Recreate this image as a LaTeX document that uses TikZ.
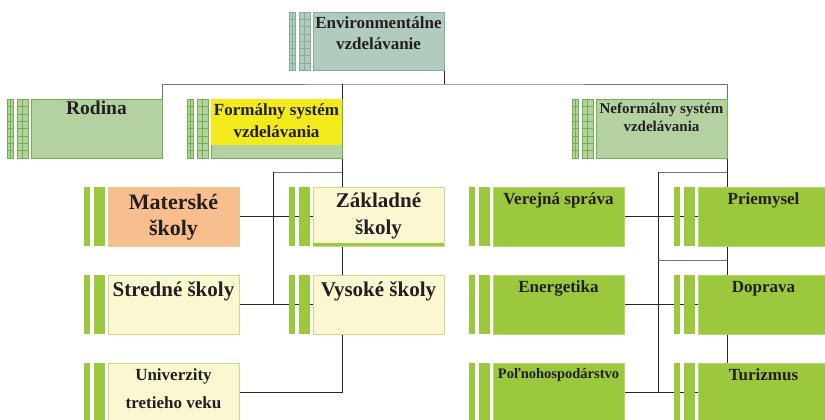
\documentclass[tikz,border=0pt]{standalone}
\usepackage{fontspec}
\setmainfont{Liberation Serif}
\usetikzlibrary{calc}
\pgfdeclarelayer{bg}
\pgfsetlayers{bg,main}
\definecolor{envfill}{HTML}{B2CBBF}
\definecolor{envline}{HTML}{86AD98}
\definecolor{lgfill}{HTML}{B3D1A1}
\definecolor{lgline}{HTML}{72B04E}
\definecolor{yel}{HTML}{F2EA1A}
\definecolor{grn}{HTML}{9BC83C}
\definecolor{grnline}{HTML}{B5D873}
\definecolor{cream}{HTML}{FBF8D1}
\definecolor{creamline}{HTML}{C4DF8C}
\definecolor{peach}{HTML}{F8BE8E}
\definecolor{ink}{HTML}{231F20}
\newcommand\fsz[2]{\fontsize{#1}{#2}\selectfont\bfseries}
% grid bars: #1 main left x, #2 top y, #3 height, #4 fill, #5 line
\newcommand\gridbars[5]{%
  \foreach \xa/\xb in {24/18,14/3}{%
    \filldraw[fill=#4,draw=#5,line width=0.8pt] (#1-\xa,#2) rectangle (#1-\xb,#2+#3);
    \draw[#5,line width=0.3pt] ({#1-(\xa+\xb)/2},#2) -- ++(0,#3);
    \foreach \k in {1,...,7}
      \draw[#5,line width=0.3pt] (#1-\xa,#2+\k*#3/8) -- (#1-\xb,#2+\k*#3/8);
  }}
% solid bars: #1 main left x, #2 top y
\newcommand\solidbars[2]{%
  \foreach \xa/\xb in {24/18,14/3}{%
    \fill[grn] (#1-\xa,#2) rectangle (#1-\xb,#2+59);
  }}
\begin{document}
\begin{tikzpicture}[x=1pt,y=-1pt,
  box/.style={rectangle, minimum width=131pt, minimum height=59pt, inner sep=0pt,
    outer sep=0pt, anchor=north west, line width=0.8pt},
  txt/.style={text=ink, align=center, inner sep=0pt, anchor=base},
  conn/.style={draw=black!85, line width=0.9pt},
  connl/.style={draw=black!55, line width=0.9pt}]
\useasboundingbox (0,0) rectangle (825,420);

% ---------- boxes ----------
\node[box, minimum height=58pt, fill=envfill, draw=envline] (env) at (313,12) {};
\gridbars{313}{12}{58}{envfill}{envline}

\node[box, fill=lgfill, draw=lgline] (rod) at (31,99) {};
\gridbars{31}{99}{59}{lgfill}{lgline}
\node[box, fill=lgfill, draw=lgline] (for) at (211,99) {};
\fill[yel] ($(for.north west)+(0.4,0.4)$) rectangle ($(for.north east)+(-0.4,46)$);
\gridbars{211}{99}{59}{lgfill}{lgline}
\node[box, fill=lgfill, draw=lgline] (nef) at (596,99) {};
\gridbars{596}{99}{59}{lgfill}{lgline}

\node[box, fill=peach, draw=creamline] (mat) at (108,187) {};
\solidbars{108}{187}
\node[box, fill=cream, draw=creamline] (zak) at (313,187) {};
\fill[grn] ($(zak.south west)+(0,-3)$) rectangle (zak.south east);
\solidbars{313}{187}
\node[box, fill=cream, draw=creamline] (str) at (108,275) {};
\solidbars{108}{275}
\node[box, fill=cream, draw=creamline] (vys) at (313,275) {};
\solidbars{313}{275}
\node[box, fill=cream, draw=creamline] (uni) at (108,363) {};
\solidbars{108}{363}

\node[box, fill=grn, draw=grnline] (ver) at (493,187) {};
\solidbars{493}{187}
\node[box, fill=grn, draw=grnline] (ene) at (493,275) {};
\solidbars{493}{275}
\node[box, fill=grn, draw=grnline] (pol) at (493,363) {};
\solidbars{493}{363}
\node[box, fill=grn, draw=grnline] (pri) at (698,187) {};
\solidbars{698}{187}
\node[box, fill=grn, draw=grnline] (dop) at (698,275) {};
\solidbars{698}{275}
\node[box, fill=grn, draw=grnline] (tur) at (698,363) {};
\solidbars{698}{363}

% ---------- texts (base = baseline of the last line) ----------
\node[txt, font=\fsz{17}{21}] (envT) at ($(env.north)+(0,38)$) {Environmentálne\\vzdelávanie};
\node[txt, font=\fsz{19.5}{23}] (rodT) at ($(rod.north)+(0,15)$) {Rodina};
\node[txt, font=\fsz{17}{22.7}] (forT) at ($(for.north)+(0,38.7)$) {Formálny systém\\vzdelávania};
\node[txt, font=\fsz{15}{18.4}] (nefT) at ($(nef.north)+(0,32.4)$) {Neformálny systém\\vzdelávania};
\node[txt, font=\fsz{22}{26.7}] (matT) at ($(mat.north)+(0,48.7)$) {Materské\\školy};
\node[txt, font=\fsz{21}{27.3}] (zakT) at ($(zak.north)+(0,47.3)$) {Základné\\školy};
\node[txt, font=\fsz{21}{25}] (strT) at ($(str.north)+(0,21)$) {Stredné školy};
\node[txt, font=\fsz{21}{25}] (vysT) at ($(vys.north)+(0,21)$) {Vysoké školy};
\node[txt, font=\fsz{17}{28.3}] (uniT) at ($(uni.north)+(0,45.3)$) {Univerzity\\tretieho veku};
\node[txt, font=\fsz{17}{20}] (verT) at ($(ver.north)+(0,17)$) {Verejná správa};
\node[txt, font=\fsz{17}{20}] (eneT) at ($(ene.north)+(0,17)$) {Energetika};
\node[txt, font=\fsz{14.5}{18}] (polT) at ($(pol.north)+(0,15)$) {Poľnohospodárstvo};
\node[txt, font=\fsz{17}{20}] (priT) at ($(pri.north)+(0,17)$) {Priemysel};
\node[txt, font=\fsz{17}{20}] (dopT) at ($(dop.north)+(0,17)$) {Doprava};
\node[txt, font=\fsz{17}{20}] (turT) at ($(tur.north)+(0,17)$) {Turizmus};

% ---------- connectors ----------
\coordinate (t1) at (444,84);
\coordinate (fa) at (273,172);
\coordinate (fb) at (658,172);
\coordinate (fc) at (658,260);
\begin{pgfonlayer}{bg}
\draw[connl] (rod.north east) |- (t1) -| (nef.north east);
\draw[conn] (env.south east) -- (t1);
\draw[conn] (for.north east |- t1) -- (for.east |- uni.east) -- (uni.east);
\draw[connl] (fa -| for.east) -- (fa);
\draw[conn] (fa) -- (fa |- str.east);
\draw[conn] (mat.east) -- (zak.west);
\draw[conn] (str.east) -- (vys.west);
\draw[conn] (nef.north east) -- (nef.east |- tur.north);
\draw[connl] (fb -| nef.east) -- (fb);
\draw[conn] (fb) -- (fb |- pol.east);
\draw[connl] (fc) -- (fc -| nef.east);
\draw[conn] (ver.east) -- (pri.west);
\draw[conn] (ene.east) -- (dop.west);
\draw[conn] (pol.east) -- (tur.west);
\end{pgfonlayer}
\end{tikzpicture}
\end{document}
